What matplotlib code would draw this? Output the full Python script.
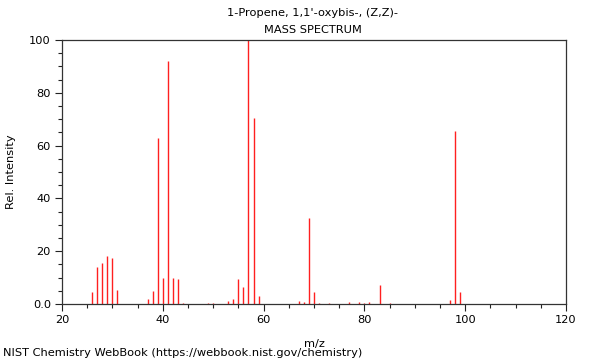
import matplotlib
matplotlib.use("Agg")
import matplotlib.pyplot as plt
from matplotlib.ticker import MultipleLocator, FuncFormatter

mz = [26, 27, 28, 29, 30, 31, 37, 38, 39, 40, 41, 42, 43, 44, 49, 50,
      53, 54, 55, 56, 57, 58, 59, 67, 68, 69, 70, 71, 73, 77, 79, 80, 81,
      83, 85, 97, 98, 99]
intensity = [4.4, 14.0, 15.4, 18.1, 17.3, 5.2, 1.9, 4.8, 62.8, 9.8, 92.0, 9.8, 9.6, 0.3, 0.4, 0.3,
             1.0, 1.8, 9.6, 6.4, 100.0, 70.3, 3.0, 1.0, 0.7, 32.6, 4.5, 0.3, 0.3, 0.9, 0.6, 0.4, 0.6,
             7.2, 0.3, 1.5, 65.4, 4.5]

title_lines = ["1-Propene, 1,1'-oxybis-, (Z,Z)-", "MASS SPECTRUM"]
xticks = [20, 40, 60, 80, 100, 120]
yticks = [0, 20, 40, 60, 80, 100]

fs = 8.2
fig = plt.figure(figsize=(6, 3.6), dpi=100)
ax = fig.add_axes([62/600, 1-304/360, 504/600, 264/360])
ax.vlines(mz, 0, intensity, colors="#ff2020", linewidth=1)
ax.set_xlim(20, 120)
ax.set_ylim(0, 100)
ax.set_xticks(xticks)
ax.set_yticks(yticks)
ax.yaxis.set_major_formatter(FuncFormatter(lambda v, p: "0.0" if v == 0 else f"{v:.0f}"))
ax.xaxis.set_minor_locator(MultipleLocator(5))
ax.yaxis.set_minor_locator(MultipleLocator(5))
ax.tick_params(which="major", length=5, width=0.8, labelsize=fs, color="#222222", pad=3)
ax.tick_params(which="minor", length=3, width=0.8, color="#222222")
for s in ax.spines.values():
    s.set_color("#333333")
    s.set_linewidth(0.9)
ax.set_xlabel("m/z", fontsize=fs)
ax.xaxis.set_label_coords(0.5, -35/264)
ax.set_ylabel("Rel. Intensity", fontsize=fs)
ax.yaxis.set_label_coords(-46/504, 0.5)
fig.text(313/600, 1-13/360, title_lines[0], ha="center", va="center", fontsize=fs)
fig.text(313/600, 1-30/360, title_lines[1], ha="center", va="center", fontsize=fs)
fig.text(3/600, 1-353/360, "NIST Chemistry WebBook (https://webbook.nist.gov/chemistry)",
         ha="left", va="center", fontsize=fs)
fig.savefig("out.png", dpi=100)
